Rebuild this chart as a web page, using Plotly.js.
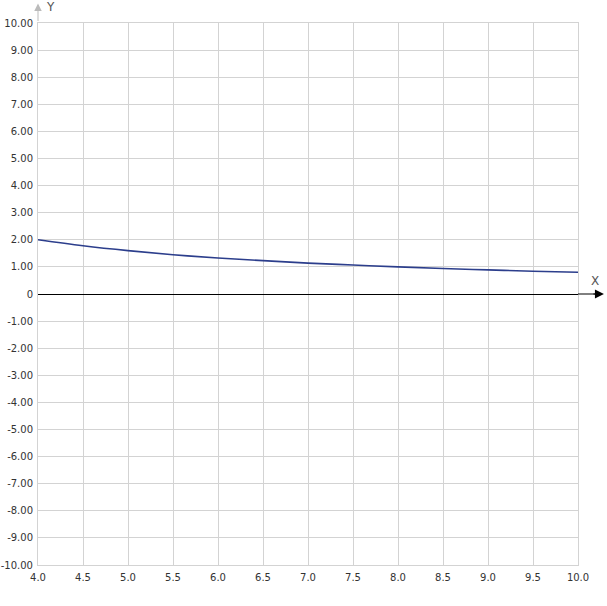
<!DOCTYPE html>
<html><head><meta charset="utf-8">
<script src="https://cdn.plot.ly/plotly-3.0.1.min.js"></script>
<style>html,body{margin:0;padding:0;background:#fff}#chart{width:607px;height:606px}</style>
</head><body><div id="chart"></div>
<script>
const xValues = [4.0, 4.5, 5.0, 5.5, 6.0, 6.5, 7.0, 7.5, 8.0, 8.5, 9.0, 9.5, 10.0];
const yValues = [2.00, 1.78, 1.60, 1.45, 1.33, 1.23, 1.14, 1.07, 1.00, 0.94, 0.89, 0.84, 0.80];
const xTickVals = [4, 4.5, 5, 5.5, 6, 6.5, 7, 7.5, 8, 8.5, 9, 9.5, 10];
const xTickText = ["4.0","4.5","5.0","5.5","6.0","6.5","7.0","7.5","8.0","8.5","9.0","9.5","10.0"];
const yTickVals = [10,9,8,7,6,5,4,3,2,1,0,-1,-2,-3,-4,-5,-6,-7,-8,-9,-10];
const yTickText = ["10.00","9.00","8.00","7.00","6.00","5.00","4.00","3.00","2.00","1.00","0",
  "-1.00","-2.00","-3.00","-4.00","-5.00","-6.00","-7.00","-8.00","-9.00","-10.00"];

const grid = '#d3d3d3';
const trace = {x: xValues, y: yValues, mode: 'lines', type: 'scatter',
  line: {color: '#2c3e8c', width: 1.6, shape: 'spline'}, hoverinfo: 'none'};

const layout = {
  width: 607, height: 606,
  margin: {l: 38, r: 29, t: 23, b: 41, pad: 0},
  paper_bgcolor: '#fff', plot_bgcolor: '#fff',
  showlegend: false,
  font: {family: 'DejaVu Sans, Verdana, sans-serif', size: 10, color: '#333'},
  xaxis: {range: [4, 10], tickvals: xTickVals, ticktext: xTickText, showgrid: true, gridcolor: grid,
    gridwidth: 1, zeroline: false, showline: true, mirror: true, linecolor: grid, linewidth: 1,
    ticks: 'outside', ticklen: 3, tickcolor: 'rgba(0,0,0,0)', tickfont: {size: 10, color: '#333'}, fixedrange: true},
  yaxis: {range: [-10, 10], tickvals: yTickVals, ticktext: yTickText, showgrid: true, gridcolor: grid,
    gridwidth: 1, zeroline: true, zerolinecolor: '#000', zerolinewidth: 1, showline: true, mirror: true,
    linecolor: grid, linewidth: 1, ticks: 'outside', ticklen: 2, tickcolor: 'rgba(0,0,0,0)',
    tickfont: {size: 10, color: '#333'}, fixedrange: true},
  shapes: [
    {type: 'line', xref: 'paper', yref: 'y', x0: 1, x1: 1.04, y0: 0, y1: 0, line: {color: '#000', width: 1}}
  ],
  annotations: [
    {xref: 'paper', yref: 'y', x: 1.048, y: 0, ax: -12, ay: 0, showarrow: true, arrowhead: 2,
      arrowsize: 1.5, arrowwidth: 1.2, arrowcolor: '#000', text: ''},
    {xref: 'paper', yref: 'paper', x: 0, y: 1.036, ax: 0, ay: 19, showarrow: true, arrowhead: 2,
      arrowsize: 1.5, arrowwidth: 1, arrowcolor: '#bbb', text: ''},
    {xref: 'paper', yref: 'y', x: 1.031, y: 0.48, text: 'X', showarrow: false, xanchor: 'center', yanchor: 'middle',
      font: {size: 12, color: '#555'}},
    {xref: 'paper', yref: 'paper', x: 0.024, y: 1.029, text: 'Y', showarrow: false, xanchor: 'center', yanchor: 'middle',
      font: {size: 12, color: '#555'}}
  ]
};
Plotly.newPlot('chart', [trace], layout, {staticPlot: true, displayModeBar: false});
</script></body></html>
